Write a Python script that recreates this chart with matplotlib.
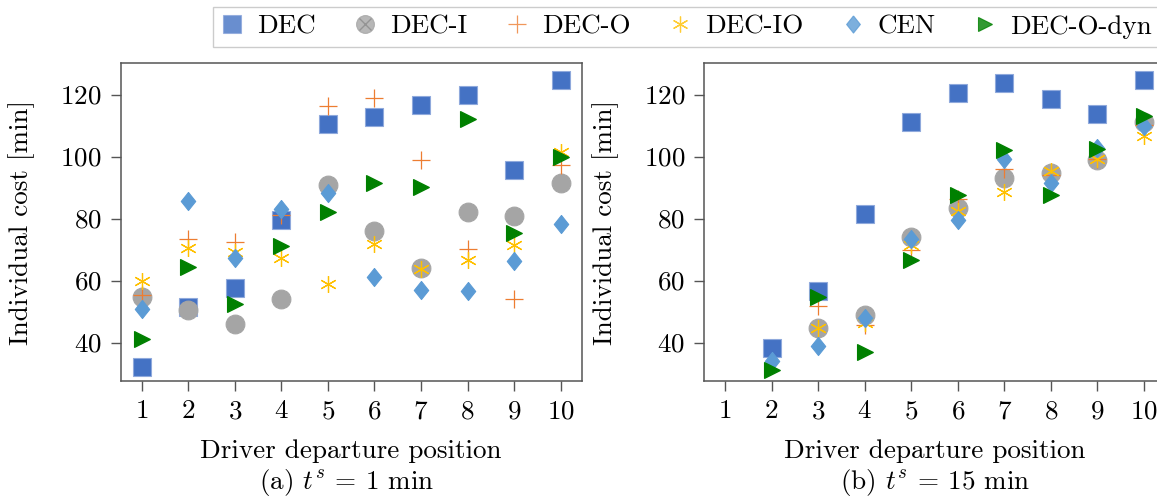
import numpy as np
import matplotlib
matplotlib.use("Agg")
import matplotlib.pyplot as plt
from matplotlib.lines import Line2D
from matplotlib.legend_handler import HandlerTuple

nan = np.nan
positions = [1, 2, 3, 4, 5, 6, 7, 8, 9, 10]
series_names = ["DEC", "DEC-I", "DEC-O", "DEC-IO", "CEN", "DEC-O-dyn"]

# (a) t^s = 1 min
dec_a = [32.2, 51.5, 57.6, 79.7, 110.6, 112.8, 116.6, 119.8, 95.6, 124.6]
deci_a = [54.7, 50.4, 46.1, 53.9, 90.8, 76.0, 64.0, 82.0, 80.8, 91.6]
deco_a = [55.5, 73.5, 72.3, 81.0, 116.2, 118.9, 98.8, 70.1, 54.0, 97.2]
decio_a = [59.9, 70.5, 69.2, 67.3, 59.0, 71.9, 63.7, 66.8, 71.4, 101.5]
cen_a = [50.8, 85.7, 67.4, 83.0, 88.4, 61.2, 57.1, 56.6, 66.2, 78.1]
dyn_a = [41.0, 64.4, 52.3, 71.2, 82.0, 91.6, 90.2, 112.0, 75.5, 99.9]

# (b) t^s = 15 min
dec_b = [nan, 38.2, 56.5, 81.6, 111.1, 120.6, 123.8, 118.7, 113.9, 124.6]
deci_b = [nan, nan, 44.6, 48.9, 74.1, 83.3, 93.1, 94.7, 98.8, 111.2]
deco_b = [nan, nan, 51.8, 45.7, 69.8, 86.3, 95.9, 94.2, 99.2, 110.1]
decio_b = [nan, nan, 44.6, 46.3, 71.4, 82.5, 88.6, 95.3, 99.1, 106.6]
cen_b = [nan, 34.2, 38.9, 47.9, 73.3, 79.7, 99.1, 91.6, 102.9, 109.8]
dyn_b = [nan, 31.0, 54.8, 36.8, 66.6, 87.6, 102.0, 87.6, 102.6, 113.0]

panels = [
    ([dec_a, deci_a, deco_a, decio_a, cen_a, dyn_a], "(a) $t^s$ = 1 min"),
    ([dec_b, deci_b, deco_b, decio_b, cen_b, dyn_b], "(b) $t^s$ = 15 min"),
]

# diamond a bit wider than matplotlib's thin diamond
diamond = [(0, 1), (0.8, 0), (0, -1), (-0.8, 0), (0, 1)]

styles = {
    "DEC": dict(marker="s", ms=13.2, color="#4472C4", mec="#8fa9dc", mew=0.8),
    "DEC-I": dict(marker="o", ms=13.5, color="#A5A5A5", mec="#A5A5A5", mew=0.8),
    "DEC-O": dict(marker="+", ms=13.5, color="#ED7D31", mew=0.9),
    "DEC-IO": dict(marker=(6, 2, 0), ms=12.0, color="#FFC000", mew=0.9),
    "CEN": dict(marker=diamond, ms=13.0, color="#5B9BD5", mec="#5B9BD5", mew=0.8),
    "DEC-O-dyn": dict(marker=">", ms=11.0, color="#008000", mec="#008000", mew=0.8),
}

plt.rcParams["font.family"] = "serif"
plt.rcParams["font.serif"] = ["cmr10"]
plt.rcParams["mathtext.fontset"] = "cm"
plt.rcParams["axes.formatter.use_mathtext"] = True
plt.rcParams["font.size"] = 19.5

W, H = 1157, 497
fig = plt.figure(figsize=(W / 100, H / 100), dpi=100)

axes_px = [(120.7, 63.3), (704.0, 63.3)]
ax_w, ax_h = 461.0, 317.4
caption_x = [347, 935]
ylabel_x = [22, 606]
spine_col = "#555555"

for (data, caption), (x0, y0), cx, lx in zip(panels, axes_px, caption_x, ylabel_x):
    ax = fig.add_axes([x0 / W, 1 - (y0 + ax_h) / H, ax_w / W, ax_h / H])
    for name, vals in zip(series_names, data):
        st = styles[name]
        ax.plot(positions, vals, linestyle="none", marker=st["marker"],
                markersize=st["ms"], color=st["color"],
                markeredgecolor=st.get("mec", st["color"]),
                markeredgewidth=st["mew"])
    ax.set_xlim(0.55, 10.45)
    ax.set_ylim(27.7, 130.1)
    ax.set_xticks(positions)
    ax.set_yticks([40, 60, 80, 100, 120])
    for side in ["top", "right", "bottom", "left"]:
        ax.spines[side].set_color(spine_col)
        ax.spines[side].set_linewidth(1.1)
    ax.tick_params(direction="out", length=7.5, width=1.0, color=spine_col,
                   labelsize=19.5, pad=6)
    ax.text(0.5, (ax_h - (451 - y0)) / ax_h, "Driver departure position",
            transform=ax.transAxes, ha="center", va="center")
    ax.text((lx - x0) / ax_w, 0.5, "Individual cost [min]",
            transform=ax.transAxes, ha="center", va="center", rotation=90)
    fig.text(cx / W, 1 - 482.5 / H, caption, ha="center", va="center")

handles = []
for name in series_names:
    st = styles[name]
    h = Line2D([], [], linestyle="none", marker=st["marker"], markersize=st["ms"] * 0.95,
               color=st["color"], markeredgecolor=st.get("mec", st["color"]),
               markeredgewidth=st["mew"], alpha=0.8)
    if name == "DEC-I":
        cross = Line2D([], [], linestyle="none", marker="x", markersize=st["ms"] * 0.6,
                       color="#8c8c8c", markeredgewidth=1.0, alpha=0.8)
        h = (h, cross)
    handles.append(h)

fig.legend(handles, series_names, loc="upper left",
           bbox_to_anchor=(213 / W, 1 - 6.7 / H), ncol=6, frameon=True,
           fancybox=False, edgecolor="#cccccc", framealpha=1,
           handlelength=0.8, handletextpad=0.52, columnspacing=1.43,
           borderpad=0.3, borderaxespad=0,
           handler_map={tuple: HandlerTuple(ndivide=1)})

fig.savefig("out.png", dpi=100)
